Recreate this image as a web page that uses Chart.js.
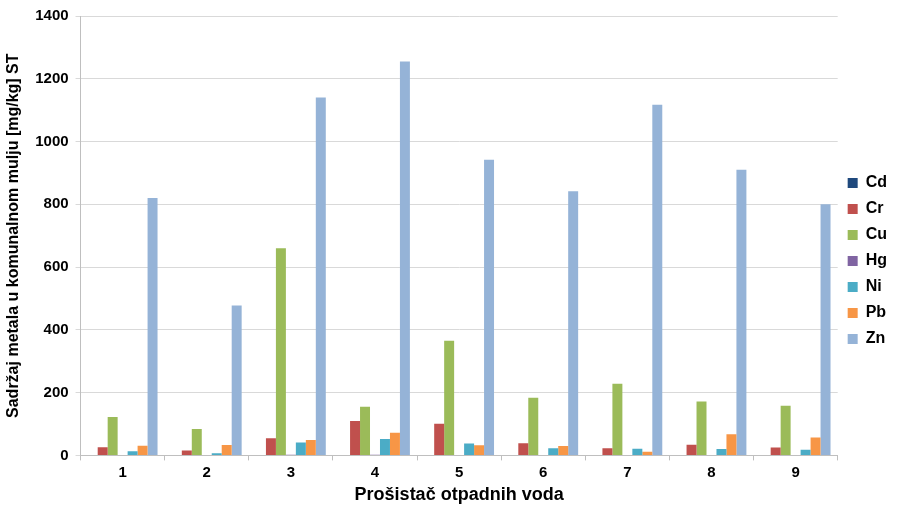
<!doctype html>
<html lang="hr">
  <head>
    <meta charset="utf-8">
    <title>Sadržaj metala u komunalnom mulju</title>
    <style>
      * { margin: 0; padding: 0; }
      body { background: #fff; }
      .chartBox { width: 897px; height: 506px; }
    </style>
  </head>
  <body>
    <div class="chartBox">
      <canvas id="myChart"></canvas>
    </div>
    <script src="https://cdn.jsdelivr.net/npm/chart.js/dist/chart.umd.min.js"></script>
    <script>
    // data
    const plants = ['1', '2', '3', '4', '5', '6', '7', '8', '9'];
    const cd = [1, 1, 1, 1, 1, 1, 1, 1, 1];
    const cr = [26, 16, 55, 110, 101, 39, 23, 34, 25];
    const cu = [122, 84, 660, 155, 365, 184, 228, 172, 158];
    const hg = [1, 1, 2, 2, 1, 1, 1, 1, 1];
    const ni = [13, 7, 41, 52, 38, 23, 21, 20, 18];
    const pb = [31, 33, 49, 72, 32, 30, 12, 67, 57];
    const zn = [820, 478, 1140, 1255, 942, 842, 1117, 910, 800];
    const yTicks = [0, 200, 400, 600, 800, 1000, 1200, 1400];

    Chart.defaults.font.family = '"Liberation Sans", Arial, sans-serif';
    Chart.defaults.color = '#000';

    const data = {
      labels: plants,
      datasets: [
        { label: 'Cd', data: cd, backgroundColor: '#1F497D' },
        { label: 'Cr', data: cr, backgroundColor: '#C0504D' },
        { label: 'Cu', data: cu, backgroundColor: '#9BBB59' },
        { label: 'Hg', data: hg, backgroundColor: '#8064A2' },
        { label: 'Ni', data: ni, backgroundColor: '#4BACC6' },
        { label: 'Pb', data: pb, backgroundColor: '#F79646' },
        { label: 'Zn', data: zn, backgroundColor: '#95B3D7' }
      ]
    };

    const config = {
      type: 'bar',
      data,
      options: {
        responsive: false,
        animation: false,
        layout: { padding: { top: 16, right: 0, bottom: 0, left: 4 } },
        datasets: {
          bar: { categoryPercentage: 0.83, barPercentage: 1.0, borderWidth: 0 }
        },
        plugins: {
          legend: {
            position: 'right',
            labels: {
              boxWidth: 10,
              boxHeight: 10,
              padding: 10,
              font: { size: 16, weight: 'bold' }
            }
          },
          tooltip: { enabled: false }
        },
        scales: {
          x: {
            grid: {
              offset: true,
              drawOnChartArea: false,
              drawTicks: true,
              tickLength: 5,
              color: '#bfbfbf'
            },
            border: { color: '#bfbfbf' },
            ticks: { font: { size: 15, weight: 'bold' }, padding: 3 },
            title: {
              display: true,
              text: 'Prošistač otpadnih voda',
              font: { size: 18, weight: 'bold' },
              padding: { top: 0, bottom: 0 }
            }
          },
          y: {
            min: 0,
            max: 1400,
            afterBuildTicks: axis => { axis.ticks = yTicks.map(v => ({ value: v })); },
            grid: { color: '#d9d9d9', tickLength: 5 },
            border: { color: '#bfbfbf' },
            ticks: {
              font: { size: 15, weight: 'bold' },
              padding: 7,
              callback: v => String(v)
            },
            title: {
              display: true,
              text: 'Sadržaj metala u komunalnom mulju [mg/kg] ST',
              font: { size: 16, weight: 'bold' },
              padding: { top: 0, bottom: 5 }
            }
          }
        }
      }
    };

    const canvas = document.getElementById('myChart');
    canvas.width = 897;
    canvas.height = 506;
    const myChart = new Chart(canvas, config);
    </script>
  </body>
</html>
